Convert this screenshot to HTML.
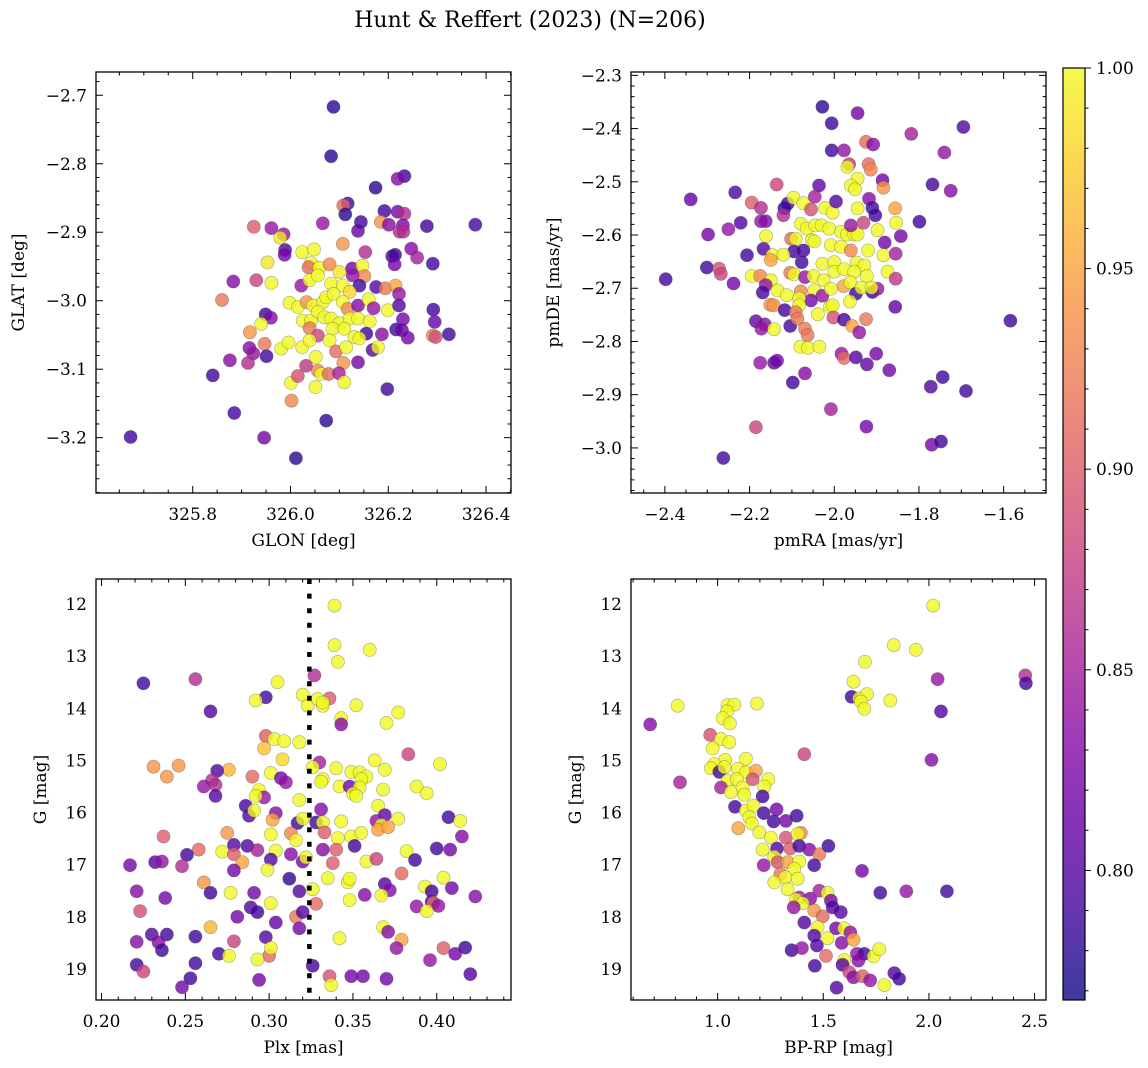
<!DOCTYPE html>
<html><head><meta charset="utf-8">
<style>
html,body{margin:0;padding:0;background:#fff;}
svg{display:block;font-family:"DejaVu Serif","Liberation Serif",serif;}
</style></head>
<body>
<svg id="fig" width="1148" height="1068" viewBox="0 0 1148 1068" xmlns="http://www.w3.org/2000/svg">
<defs>
<linearGradient id="plasmaGrad" x1="0" y1="1" x2="0" y2="0">
<stop offset="0" stop-color="#0d0887"/><stop offset="0.1" stop-color="#41049d"/><stop offset="0.2" stop-color="#6a00a8"/><stop offset="0.3" stop-color="#8f0da4"/><stop offset="0.4" stop-color="#b12a90"/><stop offset="0.5" stop-color="#cc4778"/><stop offset="0.6" stop-color="#e16462"/><stop offset="0.7" stop-color="#f2844b"/><stop offset="0.8" stop-color="#fca636"/><stop offset="0.9" stop-color="#fcce25"/><stop offset="1" stop-color="#f0f921"/>
</linearGradient>
</defs>
<text x="530" y="27" font-size="22" text-anchor="middle">Hunt &amp; Reffert (2023) (N=206)</text>
</svg>
<script>
// ---- Panel 1: GLON / GLAT ----
const p1Glon=[326.088,326.083,326.233,326.219,326.174,326.117,326.108,326.112,326.192,326.219,
326.233,326.185,326.201,326.144,326.138,326.066,326.230,326.223,326.231,326.279,
326.378,325.925,325.961,325.986,325.979,325.989,325.988,326.024,326.048,326.107,
326.153,326.247,326.259,326.208,326.214,326.213,326.291,325.953,326.042,326.037,
326.059,326.080,326.100,326.126,326.147,326.151,326.127,326.141,325.883,325.930,
325.961,326.022,326.039,326.056,326.083,326.107,326.121,326.175,326.194,326.215,
326.222,325.860,325.998,326.015,326.033,326.046,326.066,326.073,326.088,326.107,
326.117,326.138,326.160,326.170,326.199,326.222,326.292,325.949,325.960,325.940,
326.025,326.042,326.056,326.069,326.083,326.100,326.121,326.138,326.162,326.230,
326.295,325.917,325.947,326.039,326.056,326.086,326.110,326.131,326.155,326.187,
326.216,326.228,326.240,326.291,326.297,326.324,325.916,325.924,325.951,325.981,
325.996,326.024,326.039,326.080,326.093,326.114,326.141,326.168,326.179,325.876,
325.913,326.032,326.052,326.056,326.063,326.078,326.108,326.138,326.099,325.841,
326.001,326.015,326.051,326.110,326.198,326.002,325.885,326.073,325.673,325.946,
326.011];
const p1Glat=[-2.717,-2.789,-2.818,-2.822,-2.835,-2.858,-2.861,-2.874,-2.869,-2.870,
-2.873,-2.885,-2.889,-2.885,-2.898,-2.887,-2.890,-2.899,-2.899,-2.891,
-2.889,-2.892,-2.894,-2.903,-2.908,-2.926,-2.933,-2.929,-2.925,-2.917,
-2.929,-2.924,-2.937,-2.935,-2.933,-2.947,-2.946,-2.944,-2.945,-2.951,
-2.952,-2.947,-2.958,-2.953,-2.949,-2.964,-2.963,-2.978,-2.972,-2.970,
-2.974,-2.978,-2.970,-2.963,-2.975,-2.978,-2.987,-2.980,-2.982,-2.978,
-2.990,-2.999,-3.003,-3.009,-3.002,-3.007,-3.002,-2.995,-2.990,-3.002,
-3.012,-3.007,-2.998,-3.011,-3.014,-3.007,-3.013,-3.020,-3.025,-3.034,
-3.029,-3.029,-3.016,-3.024,-3.026,-3.033,-3.026,-3.026,-3.030,-3.027,
-3.031,-3.046,-3.063,-3.040,-3.051,-3.041,-3.041,-3.053,-3.048,-3.049,
-3.042,-3.043,-3.054,-3.051,-3.053,-3.049,-3.069,-3.077,-3.081,-3.070,
-3.061,-3.068,-3.058,-3.058,-3.074,-3.068,-3.055,-3.072,-3.068,-3.087,
-3.091,-3.095,-3.082,-3.102,-3.107,-3.107,-3.091,-3.090,-3.106,-3.109,
-3.120,-3.110,-3.126,-3.119,-3.129,-3.146,-3.164,-3.175,-3.199,-3.200,
-3.230];
const p1Prob=[0.78,0.78,0.79,0.83,0.78,0.79,0.91,0.78,0.79,0.82,
0.86,0.94,0.83,0.79,0.81,0.84,0.82,0.86,0.86,0.79,
0.79,0.90,0.84,0.84,0.99,0.80,0.82,1,1,0.94,
0.86,0.83,0.85,0.80,0.79,0.82,0.79,0.99,1,0.91,
1,0.93,0.99,0.82,1,0.93,0.84,0.79,0.83,0.88,
1,0.84,1,1,1,1,0.98,0.80,0.92,0.95,
0.84,0.92,1,1,0.94,1,1,1,1,1,
0.93,0.83,1,0.84,1,0.80,0.79,0.79,0.83,1,
1,1,1,1,1,1,1,1,1,0.82,
0.81,0.94,0.92,0.92,0.88,1,1,1,0.79,0.83,
0.79,0.81,0.82,0.92,0.89,0.79,0.83,0.84,0.79,1,
1,1,1,1,0.91,1,1,0.80,1,0.83,
0.86,0.87,1,0.93,1,0.91,0.94,0.82,0.85,0.79,
1,0.89,1,1,0.79,0.93,0.79,0.78,0.79,0.82,
0.78];

// ---- Panel 2: pmRA / pmDE ----
const p2PmRA=[-2.028,-1.945,-2.006,-1.695,-1.818,-1.925,-1.908,-1.977,-2.006,-1.740,
-1.965,-1.969,-1.919,-1.914,-1.945,-1.961,-1.951,-1.886,-1.884,-1.768,
-1.725,-2.136,-2.036,-2.339,-2.234,-2.195,-2.173,-2.118,-2.110,-2.096,
-2.073,-2.046,-2.055,-2.022,-2.004,-1.996,-1.918,-1.910,-1.903,-1.856,
-1.945,-1.854,-1.799,-2.221,-2.250,-2.298,-2.173,-2.162,-2.120,-2.079,
-2.065,-2.045,-2.030,-2.012,-1.984,-1.970,-1.953,-1.945,-1.961,-1.931,
-1.898,-1.881,-1.843,-2.161,-2.102,-2.091,-2.053,-2.047,-2.008,-1.984,
-1.961,-1.920,-1.884,-1.855,-2.167,-2.206,-2.095,-2.073,-2.146,-2.120,
-2.150,-2.077,-2.028,-2.000,-1.947,-1.929,-2.301,-2.272,-2.268,-2.238,
-2.398,-2.195,-2.175,-2.104,-2.095,-2.069,-2.049,-2.025,-2.000,-1.977,
-1.953,-1.923,-1.874,-1.855,-2.150,-2.162,-2.134,-2.112,-2.079,-2.047,
-2.028,-2.008,-1.978,-1.962,-1.949,-1.936,-1.910,-1.898,-1.912,-2.169,
-2.055,-2.083,-2.151,-2.143,-2.117,-2.083,-2.091,-2.010,-2.004,-1.963,
-1.856,-2.185,-2.164,-2.172,-2.142,-2.104,-2.087,-2.039,-2.002,-1.977,
-1.958,-1.925,-1.941,-2.069,-2.063,-2.080,-2.062,-2.035,-1.983,-1.977,
-1.949,-1.923,-1.901,-1.870,-2.175,-2.142,-2.135,-2.069,-2.098,-1.772,
-1.744,-1.689,-1.584,-2.008,-2.185,-1.924,-1.770,-1.748,-2.262];
const p2PmDE=[-2.359,-2.371,-2.390,-2.397,-2.410,-2.425,-2.430,-2.441,-2.441,-2.445,
-2.467,-2.472,-2.467,-2.477,-2.494,-2.507,-2.514,-2.497,-2.511,-2.505,
-2.517,-2.505,-2.507,-2.533,-2.520,-2.539,-2.549,-2.550,-2.541,-2.530,
-2.540,-2.528,-2.552,-2.549,-2.558,-2.537,-2.532,-2.549,-2.563,-2.550,
-2.550,-2.577,-2.575,-2.577,-2.589,-2.599,-2.574,-2.574,-2.563,-2.579,
-2.588,-2.582,-2.582,-2.588,-2.594,-2.599,-2.599,-2.599,-2.582,-2.577,
-2.591,-2.614,-2.602,-2.602,-2.607,-2.607,-2.610,-2.612,-2.619,-2.622,
-2.629,-2.629,-2.638,-2.635,-2.626,-2.638,-2.631,-2.629,-2.638,-2.637,
-2.647,-2.651,-2.654,-2.651,-2.652,-2.657,-2.661,-2.663,-2.673,-2.691,
-2.683,-2.677,-2.677,-2.671,-2.674,-2.679,-2.677,-2.685,-2.669,-2.664,
-2.669,-2.677,-2.669,-2.682,-2.685,-2.694,-2.704,-2.713,-2.706,-2.704,
-2.714,-2.701,-2.696,-2.689,-2.710,-2.699,-2.707,-2.701,-2.699,-2.708,
-2.723,-2.719,-2.731,-2.732,-2.741,-2.732,-2.745,-2.735,-2.732,-2.725,
-2.735,-2.762,-2.768,-2.776,-2.777,-2.771,-2.757,-2.749,-2.755,-2.759,
-2.771,-2.758,-2.783,-2.776,-2.788,-2.810,-2.812,-2.810,-2.823,-2.831,
-2.830,-2.843,-2.823,-2.854,-2.840,-2.840,-2.836,-2.860,-2.877,-2.885,
-2.867,-2.893,-2.761,-2.927,-2.961,-2.960,-2.994,-2.988,-3.019];
const p2Prob=[0.78,0.82,0.79,0.80,0.85,0.91,0.83,0.84,0.79,0.84,
0.87,1,0.91,0.93,1,1,1,0.82,0.94,0.79,
0.83,0.88,0.81,0.81,0.80,0.90,0.86,0.78,0.79,1,
1,0.85,0.89,1,1,0.80,0.83,0.79,0.79,0.95,
1,1,0.79,0.80,0.84,0.82,0.84,0.83,0.86,1,
1,1,1,1,1,1,1,1,0.84,0.88,
1,0.82,0.82,1,0.91,1,1,1,1,1,
0.93,1,1,0.85,0.80,0.79,0.79,0.79,1,1,
0.95,0.79,1,1,1,1,0.79,0.89,0.88,0.82,
0.79,1,0.93,0.92,1,0.84,1,1,1,1,
1,1,1,0.87,1,0.84,1,1,0.93,1,
0.84,1,0.95,1,0.79,1,0.79,0.84,1,0.79,
0.82,1,0.94,0.94,0.79,1,0.92,1,1,1,
0.81,0.81,0.83,0.84,1,0.79,0.92,1,0.89,0.79,
0.95,0.92,0.84,0.92,0.92,1,1,1,0.84,0.91,
0.80,0.81,0.82,0.82,0.84,0.81,0.82,0.83,0.79,0.80,
0.79,0.79,0.79,0.85,0.88,0.82,0.82,0.79,0.79];

// ---- Panel 3: Plx / G ----
const p3Plx=[0.339,0.339,0.360,0.341,0.327,0.225,0.256,0.305,0.298,0.292,
0.265,0.320,0.323,0.329,0.336,0.332,0.332,0.352,0.377,0.343,
0.343,0.370,0.298,0.303,0.309,0.318,0.297,0.308,0.330,0.326,
0.383,0.363,0.402,0.231,0.239,0.246,0.276,0.269,0.290,0.301,
0.307,0.310,0.266,0.261,0.268,0.268,0.340,0.349,0.354,0.358,
0.369,0.332,0.331,0.342,0.348,0.355,0.354,0.350,0.352,0.368,
0.388,0.394,0.294,0.297,0.292,0.318,0.286,0.288,0.291,0.304,
0.331,0.365,0.369,0.364,0.377,0.407,0.414,0.302,0.317,0.320,
0.328,0.332,0.343,0.333,0.367,0.365,0.371,0.237,0.275,0.301,
0.313,0.316,0.341,0.349,0.355,0.415,0.258,0.272,0.279,0.287,
0.293,0.304,0.313,0.332,0.340,0.351,0.382,0.400,0.408,0.251,
0.279,0.284,0.301,0.320,0.322,0.338,0.358,0.364,0.387,0.232,
0.236,0.217,0.248,0.279,0.299,0.312,0.335,0.347,0.348,0.379,
0.404,0.261,0.221,0.238,0.265,0.277,0.291,0.318,0.326,0.369,
0.372,0.357,0.367,0.393,0.397,0.409,0.423,0.301,0.348,0.223,
0.289,0.293,0.281,0.304,0.316,0.320,0.328,0.388,0.397,0.398,
0.401,0.394,0.265,0.318,0.368,0.371,0.230,0.239,0.256,0.298,
0.221,0.234,0.236,0.279,0.342,0.379,0.376,0.270,0.276,0.300,
0.301,0.293,0.404,0.411,0.417,0.396,0.221,0.225,0.256,0.326,
0.336,0.337,0.349,0.356,0.370,0.420,0.253,0.248,0.294];
const p3G=[12.03,12.79,12.88,13.11,13.37,13.52,13.44,13.50,13.79,13.85,
14.06,13.74,13.95,13.82,13.81,13.95,13.89,13.94,14.08,14.19,
14.31,14.28,14.53,14.59,14.63,14.65,14.77,14.98,15.04,15.13,
14.88,15.00,15.07,15.12,15.31,15.10,15.18,15.20,15.31,15.24,
15.34,15.42,15.38,15.50,15.47,15.68,15.15,15.22,15.23,15.31,
15.18,15.36,15.41,15.50,15.50,15.36,15.52,15.64,15.68,15.56,
15.50,15.63,15.57,15.71,15.68,15.76,15.87,16.06,15.96,16.01,
15.94,15.87,16.05,16.16,16.12,16.09,16.16,16.14,16.20,16.12,
16.19,16.19,16.17,16.38,16.24,16.33,16.28,16.46,16.39,16.42,
16.40,16.53,16.49,16.46,16.39,16.46,16.71,16.75,16.62,16.64,
16.72,16.73,16.80,16.71,16.71,16.64,16.74,16.69,16.71,16.81,
16.80,16.95,16.90,16.94,16.86,16.97,16.94,16.89,16.91,16.95,
16.94,17.01,17.03,17.11,17.10,17.27,17.26,17.34,17.27,17.17,
17.25,17.34,17.51,17.64,17.54,17.54,17.54,17.51,17.47,17.37,
17.49,17.58,17.59,17.42,17.51,17.45,17.61,17.74,17.68,17.89,
17.82,17.91,18.00,18.11,18.00,17.91,17.75,17.80,17.71,17.73,
17.79,17.89,18.20,18.22,18.20,18.29,18.34,18.34,18.38,18.39,
18.48,18.49,18.64,18.47,18.41,18.44,18.60,18.71,18.75,18.75,
18.60,18.82,18.60,18.71,18.59,18.83,18.92,19.05,18.89,18.94,
19.14,19.31,19.14,19.14,19.19,19.10,19.18,19.35,19.21];
const p3Prob=[1,1,1,1,0.86,0.79,0.86,1,0.79,1,
0.80,1,1,1,0.90,1,1,1,1,1,
0.83,1,0.90,1,1,1,0.97,0.98,0.85,1,
0.88,1,1,0.94,0.94,0.94,0.96,0.80,0.91,1,
0.82,0.84,0.86,0.84,0.86,0.80,1,1,1,1,
1,1,1,1,0.82,1,1,1,1,1,
1,1,1,0.84,1,1,0.79,0.80,1,0.83,
0.83,1,0.81,0.84,1,0.79,1,0.95,0.79,1,
0.79,1,1,0.90,1,0.95,0.95,0.90,0.94,1,
0.93,1,1,1,1,0.83,0.91,1,0.80,0.80,
0.85,1,0.83,0.83,0.90,0.79,1,0.79,0.82,0.79,
0.90,0.95,0.80,0.82,1,0.90,1,0.88,0.79,0.80,
0.84,0.82,0.86,0.82,1,0.78,1,1,1,0.91,
1,0.94,0.83,0.82,0.79,1,0.82,0.80,1,0.80,
0.83,0.83,1,1,0.79,0.82,0.83,1,1,0.89,
0.80,0.79,0.82,0.81,0.92,0.80,0.91,0.84,0.79,0.91,
0.84,1,0.96,0.82,1,0.83,0.80,0.79,0.79,0.80,
0.83,0.83,0.79,0.88,1,0.95,0.84,0.79,1,0.91,
1,1,0.90,0.82,0.79,0.84,0.79,0.88,0.79,0.79,
0.89,1,0.82,0.82,0.82,0.80,0.79,0.82,0.82];

// ---- Panel 4: BP-RP / G ----
const p4Color=[2.020,1.833,1.938,1.697,2.456,2.459,2.041,1.643,1.634,1.670,
1.707,1.678,1.694,1.817,2.057,0.811,0.681,1.047,1.079,1.186,
1.044,1.024,1.058,0.965,1.016,1.055,0.976,1.410,2.012,1.036,
1.134,0.984,0.968,1.008,1.032,1.095,1.134,1.181,1.166,1.240,
1.221,0.822,1.047,1.091,1.016,1.063,1.118,1.126,1.213,1.082,
1.134,1.170,1.218,1.279,1.265,1.323,1.374,1.150,1.162,1.098,
1.197,1.252,1.394,1.323,1.379,1.213,1.281,1.344,1.386,1.434,
1.481,1.524,1.268,1.284,1.331,1.386,1.457,1.218,1.363,1.297,
1.320,1.379,1.268,1.683,1.770,1.893,2.085,1.331,1.386,1.438,
1.481,1.520,1.536,1.371,1.402,1.360,1.457,1.497,1.583,1.544,
1.410,1.473,1.560,1.599,1.628,1.457,1.520,1.587,1.643,1.470,
1.513,1.350,1.399,1.460,1.599,1.591,1.659,1.694,1.738,1.765,
1.666,1.623,1.643,1.686,1.722,1.789,1.836,1.859,1.563];
const p4G=[12.03,12.79,12.88,13.11,13.37,13.52,13.44,13.49,13.78,13.81,
13.73,13.87,14.01,13.85,14.06,13.95,14.31,13.94,13.93,13.91,
14.06,14.19,14.29,14.51,14.59,14.65,14.77,14.88,14.99,14.99,
14.97,15.07,15.15,15.22,15.13,15.16,15.23,15.20,15.36,15.36,
15.50,15.42,15.39,15.36,15.52,15.61,15.52,15.66,15.69,15.89,
15.96,15.87,16.01,15.94,16.17,16.16,16.06,16.09,16.21,16.30,
16.38,16.48,16.39,16.48,16.41,16.71,16.69,16.69,16.64,16.71,
16.80,16.64,16.85,16.95,16.95,16.94,17.01,17.01,17.08,17.18,
17.24,17.27,17.34,17.12,17.54,17.51,17.51,17.47,17.63,17.65,
17.50,17.54,17.69,17.67,17.74,17.82,17.88,17.99,17.91,17.82,
18.11,18.20,18.22,18.22,18.30,18.36,18.41,18.50,18.44,18.55,
18.75,18.64,18.60,18.94,18.83,18.92,18.71,18.71,18.76,18.62,
18.84,19.06,19.16,19.14,19.22,19.31,19.08,19.19,19.36];
const p4Prob=[1,1,1,1,0.86,0.79,0.84,1,0.79,1,
1,1,1,1,0.80,1,0.83,1,1,1,
1,1,1,0.89,1,1,1,0.88,0.83,1,
1,1,1,0.79,1,1,1,0.95,0.89,1,
1,0.85,1,1,0.85,1,1,1,0.79,0.79,
1,1,0.79,0.82,0.79,0.82,0.79,1,1,0.95,
1,1,0.93,0.89,1,1,0.80,0.90,0.79,0.83,
0.92,0.79,1,0.89,0.95,1,0.79,0.84,1,0.92,
1,1,1,0.82,0.79,0.84,0.79,1,0.85,0.83,
0.85,1,0.82,1,1,0.84,0.94,0.91,0.80,0.80,
0.80,1,0.82,1,0.84,0.80,1,0.83,0.95,0.80,
0.91,0.79,0.84,0.79,1,0.80,0.84,0.79,1,1,
0.83,0.88,0.83,0.90,0.84,1,0.80,0.79,0.80];

// ---- colour scale ----
const cbTicks=[0.80,0.85,0.90,0.95,1.00];
const plasmaStops=["#0d0887","#41049d","#6a00a8","#8f0da4","#b12a90","#cc4778","#e16462","#f2844b","#fca636","#fcce25","#f0f921"];
const CMIN=0.7677, CMAX=1.0;
function hex2rgb(h){return [parseInt(h.substr(1,2),16),parseInt(h.substr(3,2),16),parseInt(h.substr(5,2),16)];}
function plasma(v){
  let t=(v-CMIN)/(CMAX-CMIN); t=Math.max(0,Math.min(1,t));
  const p=t*10, i=Math.min(9,Math.floor(p)), f=p-i;
  const a=hex2rgb(plasmaStops[i]), b=hex2rgb(plasmaStops[i+1]);
  return "rgb("+a.map((x,k)=>Math.round(x+(b[k]-x)*f)).join(",")+")";
}

const NS="http://www.w3.org/2000/svg";
const svg=document.getElementById('fig');
function el(tag,attrs,parent){const e=document.createElementNS(NS,tag);for(const k in attrs)e.setAttribute(k,attrs[k]);(parent||svg).appendChild(e);return e;}
function fmt(v,d){const s=Math.abs(v).toFixed(d);return (v<-1e-9?"\u2212":"")+s;}

function panel(cfg){
  const g=el('g',{});
  
  
  const {x0,x1,y0,y1}=cfg.box;
  const sx=v=>x0+(v-cfg.xd[0])/(cfg.xd[1]-cfg.xd[0])*(x1-x0);
  const sy=v=>y1-(v-cfg.yd[0])/(cfg.yd[1]-cfg.yd[0])*(y1-y0);
  const cid='clip-'+cfg.name;
  const cp=el('clipPath',{id:cid},g);
  el('rect',{x:x0,y:y0,width:x1-x0,height:y1-y0},cp);
  const pts=el('g',{'clip-path':'url(#'+cid+')'},g);
  
  
  for(let i=0;i<cfg.xs.length;i++){
    const c=el('circle',{cx:sx(cfg.xs[i]).toFixed(1),cy:sy(cfg.ys[i]).toFixed(1),r:6.6,fill:plasma(cfg.cs[i]),'fill-opacity':0.8,stroke:'rgba(70,70,70,0.45)','stroke-width':0.6},pts);
    
    
  }
  if(cfg.vline!==undefined){
    const l=el('line',{x1:sx(cfg.vline),x2:sx(cfg.vline),y1:y0,y2:y1,stroke:'#000','stroke-width':4.5,'stroke-dasharray':'5 9.6'},g);
    
    
  }
  const fr=el('rect',{x:x0,y:y0,width:x1-x0,height:y1-y0,fill:'none',stroke:'#000','stroke-width':1.3},g);
  
  
  const tk=el('g',{stroke:'#000','stroke-width':1},g);
  const eps=1e-9;
  for(let v=Math.ceil(cfg.xd[0]/cfg.xmin-eps)*cfg.xmin; v<=cfg.xd[1]+eps; v+=cfg.xmin){
    const X=sx(v); if(X<x0-0.5||X>x1+0.5) continue;
    const major=Math.abs(v/cfg.xmaj-Math.round(v/cfg.xmaj))<1e-4;
    const L=major?7:3.5;
    el('line',{x1:X,x2:X,y1:y1,y2:y1-L},tk); el('line',{x1:X,x2:X,y1:y0,y2:y0+L},tk);
  }
  for(let v=Math.ceil(cfg.yd[0]/cfg.ymin-eps)*cfg.ymin; v<=cfg.yd[1]+eps; v+=cfg.ymin){
    const Y=sy(v); if(Y<y0-0.5||Y>y1+0.5) continue;
    const major=Math.abs(v/cfg.ymaj-Math.round(v/cfg.ymaj))<1e-4;
    const L=major?7:3.5;
    el('line',{x1:x0,x2:x0+L,y1:Y,y2:Y},tk); el('line',{x1:x1,x2:x1-L,y1:Y,y2:Y},tk);
  }
  cfg.xticks.forEach(v=>{
    const t=el('text',{x:sx(v),y:y1+27,'font-size':17,'text-anchor':'middle'},g);
    t.textContent=fmt(v,cfg.xdec);
    
    
  });
  cfg.yticks.forEach(v=>{
    const t=el('text',{x:x0-9,y:sy(v)+6,'font-size':17,'text-anchor':'end'},g);
    t.textContent=fmt(v,cfg.ydec);
    
    
  });
  const xt=el('text',{x:(x0+x1)/2,y:y1+53,'font-size':17,'text-anchor':'middle'},g);
  xt.textContent=cfg.xlabel;
  
  
  const yt=el('text',{x:0,y:0,'font-size':17,'text-anchor':'middle',transform:'translate('+cfg.ylx+','+((y0+y1)/2)+') rotate(-90)'},g);
  yt.textContent=cfg.ylabel;
  
  
}

panel({name:'sky-position-panel',box:{x0:96,x1:511,y0:72,y1:493},xd:[325.6022,326.451],yd:[-3.2808,-2.666],
  xs:p1Glon,ys:p1Glat,cs:p1Prob,xmaj:0.2,xmin:0.05,ymaj:0.1,ymin:0.02,
  xticks:[325.8,326.0,326.2,326.4],yticks:[-2.7,-2.8,-2.9,-3.0,-3.1,-3.2],xdec:1,ydec:1,
  xlabel:'GLON [deg]',ylabel:'GLAT [deg]',ylx:24});
panel({name:'proper-motion-panel',box:{x0:631,x1:1046,y0:72,y1:493},xd:[-2.480,-1.500],yd:[-3.0847,-2.2937],
  xs:p2PmRA,ys:p2PmDE,cs:p2Prob,xmaj:0.2,xmin:0.05,ymaj:0.1,ymin:0.02,
  xticks:[-2.4,-2.2,-2.0,-1.8,-1.6],yticks:[-2.3,-2.4,-2.5,-2.6,-2.7,-2.8,-2.9,-3.0],xdec:1,ydec:1,
  xlabel:'pmRA [mas/yr]',ylabel:'pmDE [mas/yr]',ylx:559});
panel({name:'parallax-magnitude-panel',box:{x0:96,x1:511,y0:579,y1:1000},xd:[0.1967,0.4443],yd:[19.596,11.52],
  xs:p3Plx,ys:p3G,cs:p3Prob,xmaj:0.05,xmin:0.01,ymaj:1,ymin:0.2,vline:0.324,
  xticks:[0.20,0.25,0.30,0.35,0.40],yticks:[12,13,14,15,16,17,18,19],xdec:2,ydec:0,
  xlabel:'Plx [mas]',ylabel:'G [mag]',ylx:46});
panel({name:'color-magnitude-panel',box:{x0:631,x1:1046,y0:579,y1:1000},xd:[0.590,2.554],yd:[19.596,11.52],
  xs:p4Color,ys:p4G,cs:p4Prob,xmaj:0.5,xmin:0.1,ymaj:1,ymin:0.2,
  xticks:[1.0,1.5,2.0,2.5],yticks:[12,13,14,15,16,17,18,19],xdec:1,ydec:0,
  xlabel:'BP-RP [mag]',ylabel:'G [mag]',ylx:581});

// ---- colorbar ----
(function(){
  const g=el('g',{});
  
  
  const cx0=1063,cx1=1085,cy0=68,cy1=1000;
  const sy=v=>cy1-(v-CMIN)/(CMAX-CMIN)*(cy1-cy0);
  el('rect',{x:cx0,y:cy0,width:cx1-cx0,height:cy1-cy0,fill:'url(#plasmaGrad)','fill-opacity':0.8},g);
  el('rect',{x:cx0,y:cy0,width:cx1-cx0,height:cy1-cy0,fill:'none',stroke:'#000','stroke-width':1.2},g);
  for(let v=0.77;v<=1.0001;v+=0.01){
    const Y=sy(v); const major=cbTicks.some(t=>Math.abs(t-v)<1e-4);
    el('line',{x1:cx1,x2:cx1+(major?6:3.5),y1:Y,y2:Y,stroke:'#000','stroke-width':1},g);
  }
  cbTicks.forEach(v=>{
    const t=el('text',{x:cx1+11,y:sy(v)+6,'font-size':17},g);
    t.textContent=v.toFixed(2);
    
    
  });
})();
</script>
</body></html>
